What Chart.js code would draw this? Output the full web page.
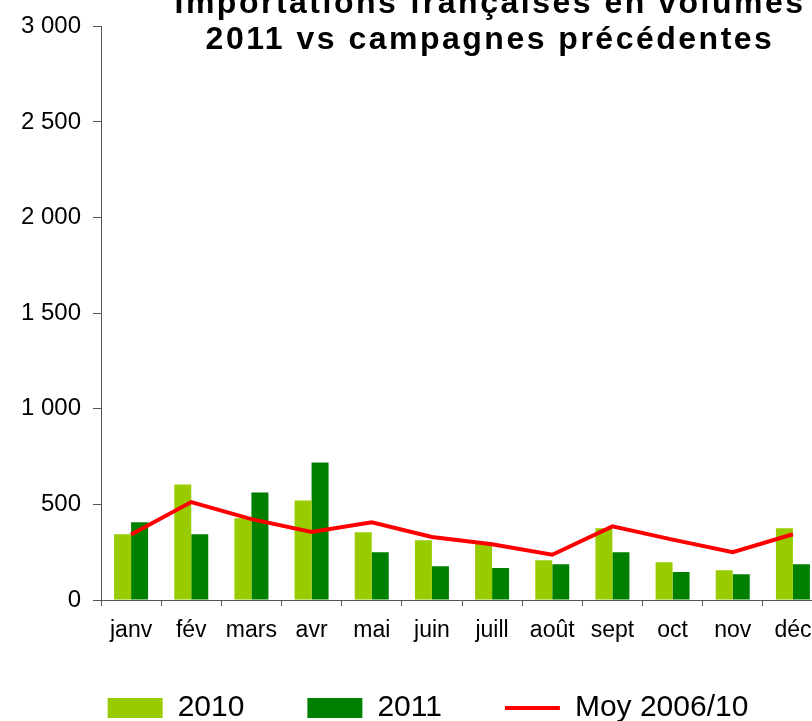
<!DOCTYPE html>
<html lang="fr">
<head>
<meta charset="utf-8">
<title>Importations françaises en volumes</title>
<script src="https://cdn.jsdelivr.net/npm/chart.js@4.4.0/dist/chart.umd.min.js"></script>
<style>
  html, body { margin: 0; padding: 0; background: #fff; overflow: hidden; }
</style>
</head>
<body>
<canvas id="chart" width="860" height="721"></canvas>
<script>
const months = ['janv', 'fév', 'mars', 'avr', 'mai', 'juin', 'juill', 'août', 'sept', 'oct', 'nov', 'déc'];
const vol2010 = [344, 604, 427, 521, 354, 312, 295, 208, 375, 198, 156, 375];
const vol2011 = [406, 344, 562, 719, 250, 177, 167, 187, 250, 146, 135, 187];
const moy0610 = [342, 512, 423, 356, 406, 330, 292, 237, 385, 316, 250, 344];
const yTickLabels = ['0', '500', '1 000', '1 500', '2 000', '2 500', '3 000'];
const titleLines = ['Importations françaises en volumes', '2011 vs campagnes précédentes'];

Chart.defaults.font.family = "'Liberation Sans', Arial, sans-serif";
Chart.defaults.color = '#000';

// title drawn by hand, it is not centred on the plot in the original
const titlePlugin = {
    id: 'twoLineTitle',
    afterDraw(chart) {
        const ctx = chart.ctx;
        ctx.save();
        ctx.font = "bold 32px 'Liberation Sans', Arial, sans-serif";
        ctx.letterSpacing = '2.5px';
        ctx.fillStyle = '#000';
        ctx.textAlign = 'center';
        ctx.textBaseline = 'alphabetic';
        ctx.fillText(titleLines[0], 490, 13);
        ctx.fillText(titleLines[1], 490, 49);
        ctx.restore();
    }
};

const data = {
    labels: months,
    datasets: [{
        type: 'bar',
        label: '2010',
        data: vol2010,
        backgroundColor: '#99cc00',
        categoryPercentage: 0.565,
        barPercentage: 1,
        pointStyle: 'rect',
        order: 1
    }, {
        type: 'bar',
        label: '2011',
        data: vol2011,
        backgroundColor: '#008000',
        categoryPercentage: 0.565,
        barPercentage: 1,
        pointStyle: 'rect',
        order: 1
    }, {
        type: 'line',
        label: 'Moy 2006/10',
        data: moy0610,
        borderColor: '#ff0000',
        backgroundColor: '#ff0000',
        borderWidth: 4,
        pointRadius: 0,
        pointBorderWidth: 4,
        pointBorderColor: '#ff0000',
        pointStyle: 'line',
        tension: 0,
        order: 0
    }]
};

const config = {
    data: data,
    options: {
        responsive: false,
        animation: false,
        layout: {
            padding: { left: 0, right: 4, top: 21, bottom: -12 }
        },
        scales: {
            x: {
                offset: true,
                grid: { offset: true, drawOnChartArea: false, tickLength: 6, color: '#555' },
                border: { color: '#555' },
                ticks: {
                    autoSkip: false,
                    maxRotation: 0,
                    mirror: true,   // no clipping to the short axis box; padding is reversed then
                    padding: -44,
                    font: { size: 23 }
                },
                afterFit(scale) { scale.height = 30; }
            },
            y: {
                min: 0,
                max: 3000,
                grid: { drawOnChartArea: false, tickLength: 8, color: '#555' },
                border: { color: '#555' },
                ticks: {
                    stepSize: 500,
                    padding: 12,
                    font: { size: 24 },
                    callback: (v, i) => yTickLabels[i]
                },
                afterFit(scale) { scale.width = 101; }
            },
            // empty right axis, only there so the legend sits where it does in the original
            yRight: {
                position: 'right',
                grid: { display: false },
                border: { display: false },
                ticks: { display: false },
                afterFit(scale) { scale.width = 33; }
            }
        },
        plugins: {
            title: { display: false },
            tooltip: { enabled: false },
            legend: {
                position: 'bottom',
                align: 'center',
                labels: {
                    usePointStyle: true,
                    pointStyleWidth: 55,
                    boxHeight: 20,
                    padding: 63,
                    font: { size: 30 },
                    sort: (a, b) => a.datasetIndex - b.datasetIndex,
                    generateLabels(chart) {
                        const items = Chart.defaults.plugins.legend.labels.generateLabels(chart);
                        items.forEach(it => { it.pointStyle = chart.data.datasets[it.datasetIndex].pointStyle; });
                        return items;
                    }
                }
            }
        }
    },
    plugins: [titlePlugin]
};

new Chart(document.getElementById('chart').getContext('2d'), config);
</script>
</body>
</html>
